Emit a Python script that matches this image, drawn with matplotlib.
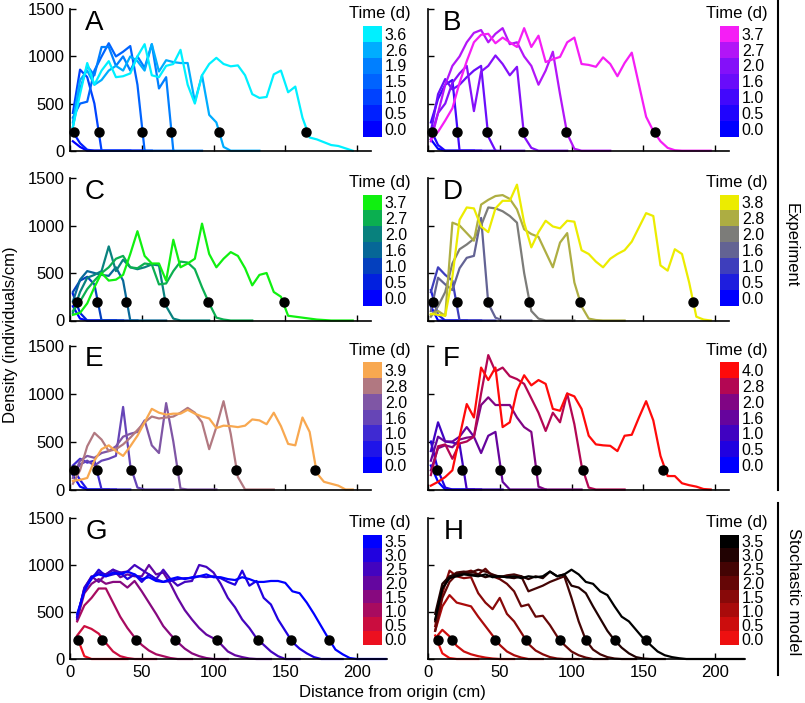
import numpy as np
import matplotlib
matplotlib.use('Agg')
import matplotlib.pyplot as plt
from matplotlib.colors import LinearSegmentedColormap, ListedColormap
from matplotlib.lines import Line2D

plt.rcParams['font.family'] = ['Liberation Sans', 'DejaVu Sans']

# bin centres (cm)
exp_x = np.arange(2, 200, 5)
model_x = np.arange(5, 225, 5)

# ---- A ----
A_times = [0.0, 0.5, 1.0, 1.5, 1.9, 2.6, 3.6]
A_fronts = [2.8, 20, 50, 70.4, 103.6, 164.5]
A_curves = [
    [100, 40, 0, 0, 0, 0, 0, 0, 0, 0, 0],
    [200, 80, 10, 0, 0, 0, 0, 0, 0],
    [400, 860, 780, 500, 0, 0, 0, 0, 0, 0, 0, 0],
    [350, 500, 520, 850, 1000, 1140, 1000, 1050, 1110, 700, 0, 0, 0, 0, 0],
    [250, 650, 900, 800, 1100, 1100, 900, 1000, 850, 1000, 880, 1130, 660, 780, 0, 0, 0, 0, 0],
    [300, 750, 850, 700, 750, 850, 900, 850, 1000, 950, 850, 1130, 840, 960, 940, 930, 930, 520,
     800, 380, 300, 40, 0, 0, 0, 0, 0],
    [250, 600, 930, 700, 850, 950, 780, 790, 820, 1000, 1130, 800, 780, 900, 920, 1070, 700, 500,
     800, 920, 985, 920, 895, 905, 800, 600, 560, 570, 810, 850, 620, 680, 350, 140, 120, 90, 60,
     50, 25, 0],
]

# ---- B ----
B_times = [0.0, 0.5, 1.0, 1.6, 2.0, 2.7, 3.7]
B_fronts = [2.6, 20.4, 40.9, 66, 96.2, 158.2]
B_curves = [
    [120, 20, 0, 0, 0, 0, 0],
    [220, 60, 0, 0, 0, 0, 0, 0],
    [300, 550, 700, 750, 0, 0, 0, 0, 0, 0],
    [200, 600, 760, 650, 700, 780, 850, 900, 150, 0, 0, 0, 0, 0],
    [150, 400, 500, 720, 820, 900, 420, 840, 900, 1010, 920, 800, 890, 150, 30, 0, 0, 0, 0, 0],
    [100, 400, 700, 900, 1000, 1150, 1250, 1280, 1150, 1240, 1300, 1130, 1150, 1000, 900, 700,
     850, 1050, 600, 180, 20, 0, 0, 0, 0, 0],
    [120, 200, 320, 450, 720, 950, 1150, 1230, 1240, 1140, 1200, 1150, 1100, 1300, 1100, 1220,
     940, 970, 995, 1150, 1200, 920, 910, 890, 990, 920, 790, 930, 1040, 700, 360, 210, 100, 30,
     5, 0, 0, 0, 0, 0],
]

# ---- C ----
C_times = [0.0, 0.5, 1.0, 1.6, 2.0, 2.7, 3.7]
C_fronts = [4.6, 19, 39, 65.7, 96.4, 149]
C_curves = [
    [150, 20, 0, 0, 0, 0, 0],
    [280, 80, 0, 0, 0, 0, 0, 0],
    [300, 420, 460, 380, 0, 0, 0, 0, 0, 0],
    [200, 430, 520, 500, 480, 470, 560, 420, 0, 0, 0, 0, 0, 0],
    [80, 300, 450, 480, 520, 780, 520, 640, 560, 540, 560, 590, 580, 150, 20, 0, 0, 0, 0, 0],
    [100, 200, 330, 420, 500, 560, 650, 680, 560, 550, 600, 590, 380, 390, 520, 620, 610, 540,
     350, 180, 30, 10, 0, 0, 0, 0],
    [60, 80, 180, 350, 500, 420, 430, 480, 700, 940, 680, 600, 600, 420, 850, 560, 600, 650, 1020,
     700, 560, 650, 720, 680, 550, 370, 480, 500, 300, 250, 50, 40, 30, 20, 10, 5, 0, 0, 0, 0],
]

# ---- D ----
D_times = [0.0, 0.5, 1.0, 1.6, 2.0, 2.8, 3.8]
D_fronts = [3.7, 20, 41.6, 70.6, 106, 184.4]
D_curves = [
    [150, 0, 0, 0, 0, 0],
    [320, 60, 0, 0, 0, 0, 0, 0],
    [300, 560, 480, 420, 0, 0, 0, 0, 0, 0],
    [100, 450, 380, 320, 550, 660, 680, 1080, 180, 30, 0, 0, 0, 0, 0],
    [40, 150, 300, 600, 750, 800, 860, 1000, 1190, 1180, 1150, 1100, 1030, 500, 100, 20, 0, 0, 0,
     0, 0],
    [60, 100, 50, 1030, 1000, 920, 840, 1220, 1270, 1310, 1320, 1280, 1170, 960, 910, 880, 720,
     560, 820, 920, 400, 150, 20, 5, 0, 0, 0, 0],
    [70, 60, 50, 460, 1060, 1190, 1180, 990, 930, 1180, 1260, 1260, 1430, 1030, 770, 930, 1050,
     990, 970, 1050, 1040, 740, 700, 620, 560, 650, 700, 740, 830, 980, 1130, 1100, 580, 525, 750,
     700, 400, 40, 10, 0],
]

# ---- E ----
E_times = [0.0, 0.5, 1.0, 1.6, 2.0, 2.8, 3.9]
E_fronts = [2.8, 18.6, 42.5, 74.3, 116, 171]
E_curves = [
    [150, 30, 0, 0, 0, 0],
    [220, 100, 0, 0, 0, 0, 0],
    [250, 320, 280, 300, 0, 0, 0, 0, 0],
    [160, 260, 300, 250, 300, 320, 350, 860, 250, 20, 0, 0, 0, 0, 0],
    [120, 300, 350, 330, 380, 400, 450, 550, 580, 600, 720, 460, 380, 900, 500, 10, 0, 0, 0, 0, 0],
    [60, 200, 450, 590, 520, 400, 420, 470, 540, 620, 700, 760, 740, 750, 760, 800, 850, 800, 700,
     420, 650, 920, 580, 130, 0, 0, 0, 0, 0],
    [90, 100, 120, 300, 420, 460, 400, 350, 450, 560, 700, 840, 800, 780, 790, 790, 830, 790, 760,
     740, 640, 665, 660, 650, 665, 730, 720, 680, 800, 660, 475, 460, 750, 600, 170, 80, 60, 40,
     0, 0],
]

# ---- F ----
F_times = [0.0, 0.5, 1.0, 1.6, 2.0, 2.8, 4.0]
F_fronts = [6.5, 24, 50, 75, 107.8, 163.5]
F_curves = [
    [250, 80, 0, 0, 0, 0, 0],
    [500, 200, 20, 0, 0, 0, 0, 0],
    [400, 700, 500, 490, 470, 0, 0, 0, 0, 0, 0],
    [300, 550, 500, 500, 550, 650, 550, 380, 560, 600, 80, 0, 0, 0, 0, 0, 0],
    [200, 430, 460, 440, 520, 540, 550, 880, 960, 880, 880, 880, 750, 650, 600, 30, 0, 0, 0, 0, 0,
     0],
    [150, 450, 470, 320, 480, 500, 550, 1000, 1400, 1230, 1270, 1180, 1150, 1100, 950, 800, 610,
     800, 700, 1000, 680, 250, 20, 0, 0, 0, 0, 0],
    [40, 80, 130, 200, 550, 890, 750, 1270, 1140, 1270, 650, 700, 1030, 1190, 1085, 1140, 1100,
     840, 820, 1000, 970, 840, 560, 470, 460, 455, 400, 560, 570, 750, 920, 720, 350, 140, 140, 65,
     45, 30, 5, 0],
]

# ---- G (stochastic model) ----
G_times = [0.0, 0.5, 1.0, 1.5, 2.0, 2.5, 3.0, 3.5]
G_fronts = [5.8, 22.5, 45.8, 73.2, 102.7, 130.8, 153.8, 180.7]
G_curves = [
    [230, 30, 0, 0, 0, 0, 0, 0],
    [250, 350, 320, 270, 170, 80, 30, 10, 0, 0, 0, 0],
    [400, 570, 650, 750, 750, 600, 450, 330, 230, 150, 90, 50, 30, 10, 0, 0, 0],
    [420, 700, 800, 850, 800, 820, 820, 760, 830, 720, 600, 480, 350, 260, 180, 110, 60, 30, 10, 0,
     0, 0],
    [450, 750, 880, 820, 900, 950, 870, 900, 880, 880, 1000, 900, 920, 800, 650, 520, 420, 330,
     260, 220, 160, 80, 40, 20, 5, 0, 0, 0],
    [430, 760, 870, 920, 900, 950, 920, 930, 1000, 950, 900, 850, 950, 850, 780, 820, 830, 1000,
     980, 920, 800, 650, 550, 420, 330, 220, 150, 80, 30, 0, 0, 0],
    [450, 740, 850, 950, 880, 900, 920, 850, 900, 820, 900, 850, 820, 830, 850, 860, 860, 880, 870,
     880, 860, 820, 790, 940, 780, 830, 650, 580, 420, 300, 180, 110, 60, 20, 0, 0, 0, 0],
    [480, 720, 870, 900, 880, 920, 900, 930, 900, 850, 870, 830, 820, 850, 870, 850, 870, 880, 900,
     870, 870, 850, 840, 870, 850, 820, 820, 830, 830, 810, 720, 700, 600, 480, 350, 220, 100, 50,
     10, 0, 0, 0, 0, 0],
]

# ---- H (stochastic model) ----
H_times = [0.0, 0.5, 1.0, 1.5, 2.0, 2.5, 3.0, 3.5]
H_fronts = [6.7, 17, 46.7, 68.3, 92, 110, 130.3, 152]
H_curves = [
    [250, 60, 10, 0, 0, 0, 0],
    [220, 310, 240, 140, 80, 50, 30, 15, 5, 0, 0, 0],
    [300, 560, 680, 600, 580, 560, 450, 350, 250, 150, 80, 40, 15, 0, 0, 0],
    [350, 700, 940, 880, 860, 870, 700, 600, 530, 650, 480, 400, 280, 160, 90, 50, 20, 5, 0, 0, 0],
    [300, 650, 820, 900, 920, 940, 900, 960, 880, 850, 800, 720, 560, 580, 450, 460, 360, 240, 150,
     80, 40, 15, 0, 0, 0],
    [400, 750, 870, 920, 930, 920, 950, 930, 900, 870, 890, 900, 880, 720, 750, 780, 820, 850, 880,
     650, 400, 200, 100, 50, 20, 5, 0, 0, 0],
    [480, 800, 880, 900, 910, 900, 900, 870, 890, 880, 870, 860, 880, 850, 880, 860, 930, 880, 900,
     780, 760, 700, 560, 430, 300, 200, 120, 60, 20, 5, 0, 0, 0],
    [420, 750, 860, 880, 900, 890, 880, 900, 870, 880, 870, 880, 860, 880, 870, 880, 930, 880, 900,
     950, 900, 820, 800, 720, 680, 560, 450, 400, 310, 220, 150, 80, 40, 20, 8, 0, 0, 0, 0, 0, 0,
     0, 0, 0],
]

W, H = 805, 703
fig = plt.figure(figsize=(W / 100, H / 100), dpi=100)

rows = [(9.3, 150.7), (178, 320.5), (345.5, 489.5), (518, 659)]
px_per_cm = 1.435


def rect(x0, x1, y0, y1):
    return [x0 / W, 1 - y1 / H, (x1 - x0) / W, (y1 - y0) / H]


panels = [
    ('A', exp_x, A_times, A_fronts, A_curves, '#0000ff', '#00f0ff', 0, 0),
    ('B', exp_x, B_times, B_fronts, B_curves, '#0000ff', '#f51ef5', 0, 1),
    ('C', exp_x, C_times, C_fronts, C_curves, '#0000ff', '#10f010', 1, 0),
    ('D', exp_x, D_times, D_fronts, D_curves, '#0000ff', '#ecec00', 1, 1),
    ('E', exp_x, E_times, E_fronts, E_curves, '#0000ff', '#f8a850', 2, 0),
    ('F', exp_x, F_times, F_fronts, F_curves, '#0000ff', '#ff0a0a', 2, 1),
    ('G', model_x, G_times, G_fronts, G_curves, '#ec1020', '#0000ff', 3, 0),
    ('H', model_x, H_times, H_fronts, H_curves, '#ee1010', '#000000', 3, 1),
]

for letter, x, times, fronts, curves, c0, c1, r, c in panels:
    xmax = 221 if r == 3 else 210
    x0 = 70 if c == 0 else 428
    top, bot = rows[r]
    ax = fig.add_axes(rect(x0, x0 + xmax * px_per_cm, top, bot))
    cmap = LinearSegmentedColormap.from_list(letter, [c0, c1])
    tmax = times[-1]
    for t, y in zip(times, curves):
        ax.plot(x[:len(y)], y, color=cmap(t / tmax), lw=1.6, clip_on=False)
    ax.plot(fronts, [200] * len(fronts), 'o', color='k', ms=6.5, zorder=5, clip_on=False)

    ax.set_xlim(0, xmax)
    ax.set_ylim(0, 1500)
    ax.set_xticks([0, 50, 100, 150, 200])
    ax.set_yticks([0, 500, 1000, 1500])
    for s in ['top', 'right']:
        ax.spines[s].set_visible(False)
    for s in ['left', 'bottom']:
        ax.spines[s].set_linewidth(1.2)
    ax.tick_params(direction='in', length=4, width=1, labelsize=12, pad=4,
                   labelleft=(c == 0), labelbottom=(r == 3))
    ax.text(0.05, 0.995, letter, transform=ax.transAxes, fontsize=20, va='top', ha='left')

    # discrete colour key, one band per time
    cbx = 363 if c == 0 else 720
    cb_top, cb_bot = top + 16.5, top + 127.5
    cax = fig.add_axes(rect(cbx, cbx + 19, cb_top, cb_bot))
    n = len(times)
    lc = ListedColormap([cmap(t / tmax) for t in times])
    cax.imshow(np.arange(n)[:, None], cmap=lc, aspect='auto', origin='lower',
               extent=[0, 1, 0, n], interpolation='nearest', vmin=-0.5, vmax=n - 0.5)
    cax.set_xticks([])
    cax.yaxis.tick_right()
    cax.set_yticks(np.arange(n) + 0.5)
    cax.set_yticklabels([f'{t:.1f}' for t in times])
    cax.tick_params(length=0, pad=2, labelsize=11.5)
    for s in cax.spines.values():
        s.set_visible(False)
    fig.text((cbx + 17) / W, 1 - (cb_top - 12) / H, 'Time (d)', ha='center', va='center',
             fontsize=12)

# right-hand group labels
fig.add_artist(Line2D([778 / W] * 2, [1 - 0 / H, 1 - 490 / H], transform=fig.transFigure,
                      color='k', lw=1.5))
fig.add_artist(Line2D([778 / W] * 2, [1 - 503 / H, 1 - 675 / H], transform=fig.transFigure,
                      color='k', lw=1.5))
fig.text(791 / W, 1 - 245 / H, 'Experiment', rotation=270, ha='center', va='center', fontsize=12)
fig.text(793 / W, 1 - 592 / H, 'Stochastic model', rotation=270, ha='center', va='center',
         fontsize=12)

fig.text(11 / W, 1 - 335 / H, 'Density (individuals/cm)', rotation=90, ha='center', va='center',
         fontsize=12)
fig.text(392 / W, 1 - 692 / H, 'Distance from origin (cm)', ha='center', va='center', fontsize=12)

fig.savefig('out.png', dpi=100)
